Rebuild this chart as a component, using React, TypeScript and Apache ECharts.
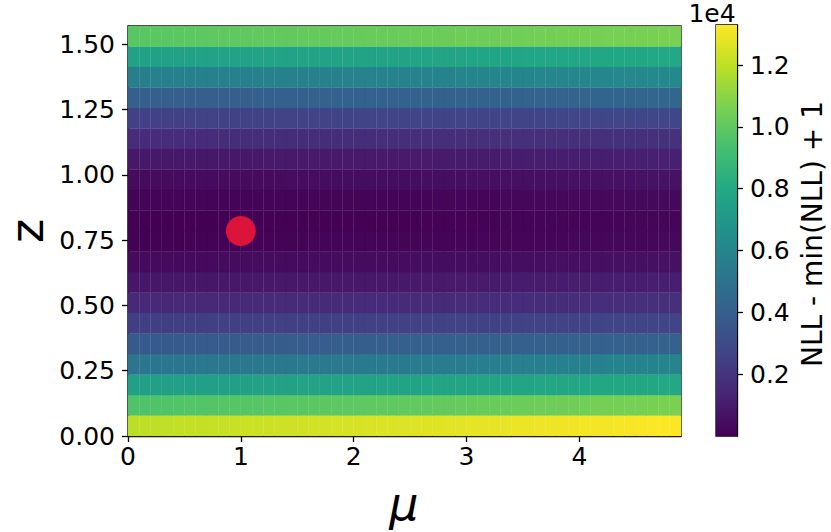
import React, { useEffect, useRef } from "react";
import * as echarts from "echarts";

// mu cell edges (x) and z cell edges (y)
const muEdges = [
  0.0, 0.1, 0.2, 0.3, 0.4, 0.5, 0.6, 0.7, 0.8, 0.9,
  1.0, 1.1, 1.2, 1.3, 1.4, 1.5, 1.6, 1.7, 1.8, 1.9,
  2.0, 2.1, 2.2, 2.3, 2.4, 2.5, 2.6, 2.7, 2.8, 2.9,
  3.0, 3.1, 3.2, 3.3, 3.4, 3.5, 3.6, 3.7, 3.8, 3.9,
  4.0, 4.1, 4.2, 4.3, 4.4, 4.5, 4.6, 4.7, 4.8, 4.9,
];
const zEdges = [
  0.0, 0.0785, 0.1571, 0.2356, 0.3142, 0.3927, 0.4712, 0.5498, 0.6283, 0.7069,
  0.7854, 0.8639, 0.9425, 1.021, 1.0996, 1.1781, 1.2566, 1.3352, 1.4137, 1.4923,
  1.5708,
];

// NLL - min(NLL) + 1, one row per z cell (bottom row first), one value per mu cell
const nllRow00 = [11950, 11978, 12006, 12034, 12062, 12090, 12118, 12146, 12174, 12202, 12230, 12258, 12286, 12314, 12342, 12370, 12398, 12426, 12454, 12482, 12510, 12538, 12566, 12594, 12622, 12650, 12678, 12706, 12734, 12762, 12790, 12818, 12846, 12874, 12902, 12930, 12958, 12986, 13014, 13042, 13070, 13098, 13126, 13154, 13182, 13210, 13238, 13266, 13294];
const nllRow01 = [9570, 9589, 9608, 9627, 9646, 9665, 9684, 9703, 9722, 9741, 9760, 9779, 9798, 9817, 9836, 9855, 9874, 9893, 9912, 9931, 9950, 9969, 9988, 10007, 10026, 10051, 10076, 10101, 10126, 10151, 10176, 10201, 10226, 10251, 10276, 10301, 10326, 10351, 10376, 10401, 10426, 10451, 10476, 10501, 10526, 10551, 10576, 10601, 10626];
const nllRow02 = [7440, 7451, 7462, 7473, 7484, 7495, 7506, 7517, 7528, 7539, 7550, 7561, 7572, 7583, 7594, 7605, 7616, 7627, 7638, 7649, 7660, 7671, 7682, 7693, 7704, 7715, 7726, 7737, 7748, 7759, 7770, 7781, 7792, 7803, 7814, 7825, 7836, 7847, 7858, 7869, 7880, 7891, 7902, 7913, 7924, 7935, 7946, 7957, 7968];
const nllRow03 = [5180, 5191, 5202, 5213, 5224, 5235, 5246, 5257, 5268, 5279, 5290, 5301, 5312, 5323, 5334, 5345, 5356, 5367, 5378, 5389, 5400, 5411, 5422, 5433, 5444, 5466, 5488, 5510, 5532, 5554, 5576, 5598, 5620, 5642, 5664, 5686, 5708, 5730, 5752, 5774, 5796, 5818, 5840, 5862, 5884, 5906, 5928, 5950, 5972];
const nllRow04 = [3720, 3731, 3742, 3753, 3764, 3775, 3786, 3797, 3808, 3819, 3830, 3841, 3852, 3863, 3874, 3885, 3896, 3907, 3918, 3929, 3940, 3951, 3962, 3973, 3984, 3990, 3996, 4002, 4008, 4014, 4020, 4026, 4032, 4038, 4044, 4050, 4056, 4062, 4068, 4074, 4080, 4086, 4092, 4098, 4104, 4110, 4116, 4122, 4128];
const nllRow05 = [2390, 2396, 2402, 2408, 2414, 2420, 2426, 2432, 2438, 2444, 2450, 2456, 2462, 2468, 2474, 2480, 2486, 2492, 2498, 2504, 2510, 2516, 2522, 2528, 2534, 2540, 2546, 2552, 2558, 2564, 2570, 2576, 2582, 2588, 2594, 2600, 2606, 2612, 2618, 2624, 2630, 2636, 2642, 2648, 2654, 2660, 2666, 2672, 2678];
const nllRow06 = [1530, 1533, 1536, 1539, 1542, 1545, 1548, 1551, 1554, 1557, 1560, 1563, 1566, 1569, 1572, 1575, 1578, 1581, 1584, 1587, 1590, 1593, 1596, 1599, 1602, 1610, 1618, 1626, 1634, 1642, 1650, 1658, 1666, 1674, 1682, 1690, 1698, 1706, 1714, 1722, 1730, 1738, 1746, 1754, 1762, 1770, 1778, 1786, 1794];
const nllRow07 = [800, 804, 808, 812, 816, 820, 824, 828, 832, 836, 840, 844, 848, 852, 856, 860, 864, 868, 872, 876, 880, 884, 888, 892, 896, 906, 916, 926, 936, 946, 956, 966, 976, 986, 996, 1006, 1016, 1026, 1036, 1046, 1056, 1066, 1076, 1086, 1096, 1106, 1116, 1126, 1136];
const nllRow08 = [330, 334, 338, 342, 346, 350, 354, 358, 362, 366, 370, 374, 378, 382, 386, 390, 394, 398, 402, 406, 410, 414, 418, 422, 426, 433, 440, 447, 454, 461, 468, 475, 482, 489, 496, 503, 510, 517, 524, 531, 538, 545, 552, 559, 566, 573, 580, 587, 594];
const nllRow09 = [40, 44, 48, 52, 56, 60, 64, 68, 72, 76, 80, 84, 88, 92, 96, 100, 104, 108, 112, 116, 120, 124, 128, 132, 136, 141, 146, 151, 156, 161, 166, 171, 176, 181, 186, 191, 196, 201, 206, 211, 216, 221, 226, 231, 236, 241, 246, 251, 256];
const nllRow10 = [1, 3, 5, 7, 9, 11, 13, 15, 17, 19, 21, 23, 25, 27, 29, 31, 33, 35, 37, 39, 41, 43, 45, 47, 49, 55, 61, 67, 73, 79, 85, 91, 97, 103, 109, 115, 121, 127, 133, 139, 145, 151, 157, 163, 169, 175, 181, 187, 193];
const nllRow11 = [100, 102, 104, 106, 108, 110, 112, 114, 116, 118, 120, 122, 124, 126, 128, 130, 132, 134, 136, 138, 140, 142, 144, 146, 148, 155, 162, 169, 176, 183, 190, 197, 204, 211, 218, 225, 232, 239, 246, 253, 260, 267, 274, 281, 288, 295, 302, 309, 316];
const nllRow12 = [370, 374, 378, 382, 386, 390, 394, 398, 402, 406, 410, 414, 418, 422, 426, 430, 434, 438, 442, 446, 450, 454, 458, 462, 466, 474, 482, 490, 498, 506, 514, 522, 530, 538, 546, 554, 562, 570, 578, 586, 594, 602, 610, 618, 626, 634, 642, 650, 658];
const nllRow13 = [860, 863, 866, 869, 872, 875, 878, 881, 884, 887, 890, 893, 896, 899, 902, 905, 908, 911, 914, 917, 920, 923, 926, 929, 932, 943, 954, 965, 976, 987, 998, 1009, 1020, 1031, 1042, 1053, 1064, 1075, 1086, 1097, 1108, 1119, 1130, 1141, 1152, 1163, 1174, 1185, 1196];
const nllRow14 = [1660, 1663, 1666, 1669, 1672, 1675, 1678, 1681, 1684, 1687, 1690, 1693, 1696, 1699, 1702, 1705, 1708, 1711, 1714, 1717, 1720, 1723, 1726, 1729, 1732, 1737, 1742, 1747, 1752, 1757, 1762, 1767, 1772, 1777, 1782, 1787, 1792, 1797, 1802, 1807, 1812, 1817, 1822, 1827, 1832, 1837, 1842, 1847, 1852];
const nllRow15 = [2520, 2526, 2532, 2538, 2544, 2550, 2556, 2562, 2568, 2574, 2580, 2586, 2592, 2598, 2604, 2610, 2616, 2622, 2628, 2634, 2640, 2646, 2652, 2658, 2664, 2669, 2674, 2679, 2684, 2689, 2694, 2699, 2704, 2709, 2714, 2719, 2724, 2729, 2734, 2739, 2744, 2749, 2754, 2759, 2764, 2769, 2774, 2779, 2784];
const nllRow16 = [3990, 3995, 4000, 4005, 4010, 4015, 4020, 4025, 4030, 4035, 4040, 4045, 4050, 4055, 4060, 4065, 4070, 4075, 4080, 4085, 4090, 4095, 4100, 4105, 4110, 4121, 4132, 4143, 4154, 4165, 4176, 4187, 4198, 4209, 4220, 4231, 4242, 4253, 4264, 4275, 4286, 4297, 4308, 4319, 4330, 4341, 4352, 4363, 4374];
const nllRow17 = [5710, 5716, 5722, 5728, 5734, 5740, 5746, 5752, 5758, 5764, 5770, 5776, 5782, 5788, 5794, 5800, 5806, 5812, 5818, 5824, 5830, 5836, 5842, 5848, 5854, 5870, 5886, 5902, 5918, 5934, 5950, 5966, 5982, 5998, 6014, 6030, 6046, 6062, 6078, 6094, 6110, 6126, 6142, 6158, 6174, 6190, 6206, 6222, 6238];
const nllRow18 = [7570, 7576, 7582, 7588, 7594, 7600, 7606, 7612, 7618, 7624, 7630, 7636, 7642, 7648, 7654, 7660, 7666, 7672, 7678, 7684, 7690, 7696, 7702, 7708, 7714, 7725, 7736, 7747, 7758, 7769, 7780, 7791, 7802, 7813, 7824, 7835, 7846, 7857, 7868, 7879, 7890, 7901, 7912, 7923, 7934, 7945, 7956, 7967, 7978];
const nllRow19 = [9830, 9847, 9864, 9881, 9898, 9915, 9932, 9949, 9966, 9983, 10000, 10017, 10034, 10051, 10068, 10085, 10102, 10119, 10136, 10153, 10170, 10187, 10204, 10221, 10238, 10254, 10270, 10286, 10302, 10318, 10334, 10350, 10366, 10382, 10398, 10414, 10430, 10446, 10462, 10478, 10494, 10510, 10526, 10542, 10558, 10574, 10590, 10606, 10622];

const nllRows = [
  nllRow00, nllRow01, nllRow02, nllRow03, nllRow04, nllRow05, nllRow06, nllRow07, nllRow08, nllRow09,
  nllRow10, nllRow11, nllRow12, nllRow13, nllRow14, nllRow15, nllRow16, nllRow17, nllRow18, nllRow19,
];

const xTicks = [0, 1, 2, 3, 4];
const yTicks = [0, 0.25, 0.5, 0.75, 1.0, 1.25, 1.5];
const cbTicks = [2000, 4000, 6000, 8000, 10000, 12000];
const bestFit = [1.0, 0.7854];

const viridis = [
  "#440154", "#482475", "#414487", "#355f8d", "#2a788e", "#21918c",
  "#22a884", "#44bf70", "#7ad151", "#bddf26", "#fde725",
];

const FONT = "DejaVu Sans";

export default function App() {
  const ref = useRef<HTMLDivElement>(null);

  useEffect(() => {
    if (!ref.current) return;
    const chart = echarts.init(ref.current, undefined, { renderer: "svg" });

    const cells: number[][] = [];
    let vMin = Infinity;
    let vMax = -Infinity;
    for (let r = 0; r < nllRows.length; r++) {
      for (let c = 0; c < nllRows[r].length; c++) {
        const v = nllRows[r][c];
        vMin = Math.min(vMin, v);
        vMax = Math.max(vMax, v);
        cells.push([muEdges[c], muEdges[c + 1], zEdges[r], zEdges[r + 1], v]);
      }
    }

    const axisLineStyle = { color: "#000", width: 1.3 };
    const labelStyle = { fontSize: 25, color: "#000", fontFamily: FONT };

    const option: any = {
      animation: false,
      backgroundColor: "#fff",
      grid: [
        { left: 128, top: 26, width: 553, height: 410, show: true, borderColor: "#000", borderWidth: 1.3, backgroundColor: "transparent" },
        { left: 716, top: 25, width: 21, height: 411, show: true, borderColor: "#000", borderWidth: 1.3, backgroundColor: "transparent" },
      ],
      xAxis: [
        {
          type: "value", gridIndex: 0, min: muEdges[0], max: muEdges[muEdges.length - 1],
          axisLine: { show: true, onZero: false, lineStyle: axisLineStyle },
          axisTick: { show: true, length: 6, customValues: xTicks, lineStyle: axisLineStyle },
          axisLabel: { ...labelStyle, customValues: xTicks, margin: 8, formatter: (v: number) => String(v) },
          splitLine: { show: false },
        },
        { type: "value", gridIndex: 1, min: 0, max: 1, show: false },
      ],
      yAxis: [
        {
          type: "value", gridIndex: 0, min: zEdges[0], max: zEdges[zEdges.length - 1],
          axisLine: { show: true, onZero: false, lineStyle: axisLineStyle },
          axisTick: { show: true, length: 6, customValues: yTicks, lineStyle: axisLineStyle },
          axisLabel: { ...labelStyle, customValues: yTicks, margin: 13, formatter: (v: number) => v.toFixed(2) },
          splitLine: { show: false },
        },
        {
          type: "value", gridIndex: 1, position: "right", min: vMin, max: vMax,
          axisLine: { show: true, onZero: false, lineStyle: axisLineStyle },
          axisTick: { show: true, length: 6, customValues: cbTicks, lineStyle: axisLineStyle },
          axisLabel: { ...labelStyle, customValues: cbTicks, margin: 13, formatter: (v: number) => (v / 1e4).toFixed(1) },
          splitLine: { show: false },
        },
      ],
      visualMap: {
        type: "continuous", show: false, seriesIndex: 0, dimension: 4,
        min: vMin, max: vMax, inRange: { color: viridis },
      },
      series: [
        {
          type: "custom", xAxisIndex: 0, yAxisIndex: 0,
          encode: { x: [0, 1], y: [2, 3] },
          data: cells,
          renderItem: (params: any, api: any) => {
            const p0 = api.coord([api.value(0), api.value(2)]);
            const p1 = api.coord([api.value(1), api.value(3)]);
            const col = api.visual("color");
            return {
              type: "rect",
              shape: { x: p0[0], y: p1[1], width: p1[0] - p0[0], height: p0[1] - p1[1] },
              style: { fill: col, stroke: col, lineWidth: 0.3 },
            };
          },
          z: 1,
        },
        {
          type: "scatter", xAxisIndex: 0, yAxisIndex: 0,
          data: [bestFit], symbol: "circle", symbolSize: 30,
          itemStyle: { color: "#dc143c", opacity: 1 },
          z: 5,
        },
        {
          type: "custom", xAxisIndex: 1, yAxisIndex: 1,
          encode: { x: [0, 1], y: [2, 3] },
          data: [[0, 1, vMin, vMax]],
          renderItem: (params: any, api: any) => {
            const p0 = api.coord([api.value(0), api.value(2)]);
            const p1 = api.coord([api.value(1), api.value(3)]);
            return {
              type: "rect",
              shape: { x: p0[0], y: p1[1], width: p1[0] - p0[0], height: p0[1] - p1[1] },
              style: {
                fill: new echarts.graphic.LinearGradient(0, 1, 0, 0,
                  viridis.map((c, i) => ({ offset: i / (viridis.length - 1), color: c }))),
              },
            };
          },
          z: 1,
        },
      ],
      graphic: [
        { type: "text", x: 712, y: 13, style: { text: "1e4", fontSize: 25, fontFamily: FONT, fill: "#000", align: "center", verticalAlign: "middle" } },
        { type: "text", x: 812, y: 234, rotation: Math.PI / 2, style: { text: "NLL - min(NLL) + 1", fontSize: 28, fontFamily: FONT, fill: "#000", align: "center", verticalAlign: "middle" } },
        { type: "text", x: 27, y: 231, rotation: Math.PI / 2, style: { text: "z", fontSize: 46, fontFamily: FONT, fill: "#000", align: "center", verticalAlign: "middle" } },
        { type: "text", x: 404, y: 504, style: { text: "μ", fontSize: 46, fontStyle: "italic", fontFamily: FONT, fill: "#000", align: "center", verticalAlign: "middle" } },
      ],
    };

    chart.setOption(option);
    return () => chart.dispose();
  }, []);

  return (
    <div
      ref={ref}
      style={{ position: "fixed", left: 0, top: 0, width: 831, height: 532, background: "#fff" }}
    />
  );
}
